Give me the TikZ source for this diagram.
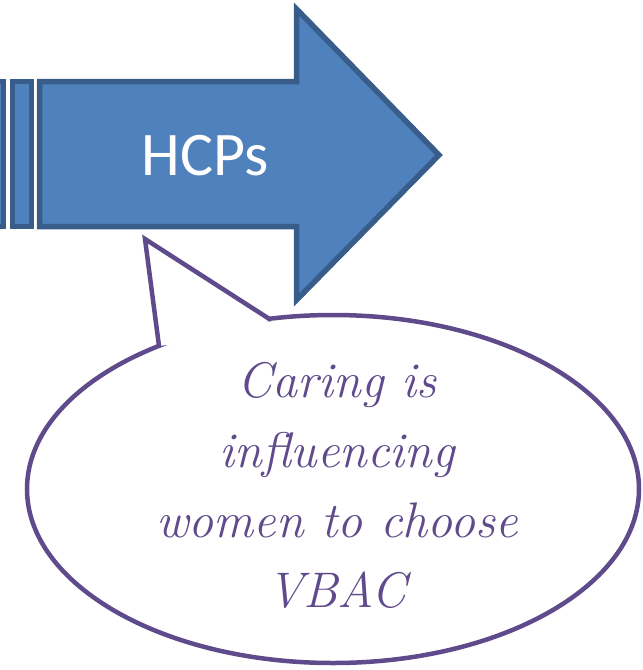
\documentclass[tikz,border=0pt]{standalone}
\usepackage{fontspec}
\newfontfamily\calibri{Carlito}
\usetikzlibrary{shapes.geometric, positioning, calc}

\definecolor{arrowfill}{HTML}{4F81BD}
\definecolor{arrowline}{HTML}{385D8A}
\definecolor{bubbleline}{HTML}{5F4B8B}

\tikzset{
	blockpart/.style={fill=arrowfill, draw=arrowline, line width=5.5pt, line join=miter},
	bubble/.style={ellipse, draw=bubbleline, line width=4.5pt, fill=white, inner sep=0pt}
}

\begin{document}
\begin{tikzpicture}[x=1pt, y=-1pt]
		\useasboundingbox (0,0) rectangle (643,670);
		% striped block arrow
		\draw[blockpart] (-3,81.5) rectangle (3.5,226.5);
		\draw[blockpart] (12.5,81.5) rectangle (31.5,226.5);
		\draw[blockpart] (39.5,81.5) -- (296.5,81.5) -- (296.5,9) -- (439,155)
			-- (296.5,300) -- (296.5,226.5) -- (39.5,226.5) -- cycle;
		\node[font=\calibri\fontsize{62}{62}\selectfont, text=white] (hcps) at (205,156) {HCPs};
		%% speech bubble
		\node[bubble, minimum width=612pt, minimum height=348pt] (talk) at (333,489) {};
		\coordinate (tip) at (145,239);
		\coordinate (baseL) at (159,346);
		\coordinate (baseR) at (271,320);
		\fill[white] (tip) -- (baseL) -- ($(baseL)!0.5!(baseR)+(0,6)$) -- (baseR) -- cycle;
		\draw[draw=bubbleline, line width=4.5pt, line join=miter] (baseL) -- (tip) -- (baseR);
		\node[font=\fontsize{50}{70}\selectfont\itshape, text=bubbleline, align=center] (quote) at (337,485)
			{Caring is\\influencing\\women to choose\\VBAC};
	\end{tikzpicture}
\end{document}
